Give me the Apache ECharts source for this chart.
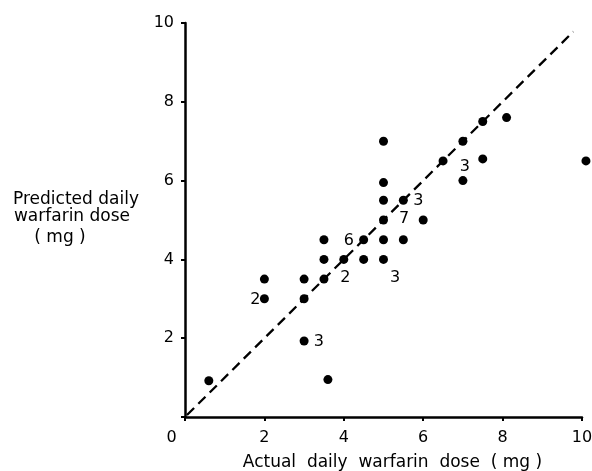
<!DOCTYPE html>
<html>
<head>
<meta charset="utf-8">
<script src="https://cdn.jsdelivr.net/npm/echarts@6/dist/echarts.min.js"></script>
<style>
html,body{margin:0;padding:0;background:#fff;}
#c{width:592px;height:471px;}
</style>
</head>
<body>
<div id="c"></div>
<script>
// Actual vs predicted daily warfarin dose (mg)
const points = [
  [0.6, 0.92], [2, 3.5], [2, 3], [3, 3.5], [3, 3], [3, 1.93],
  [3.5, 4.5], [3.5, 4], [3.5, 3.5], [3.6, 0.95], [4, 4],
  [4.5, 4.5], [4.5, 4], [5, 7], [5, 5.95], [5, 5.5], [5, 5],
  [5, 4.5], [5, 4], [5.5, 5.5], [5.5, 4.5], [6, 5], [6.5, 6.5],
  [7, 7], [7, 6], [7.5, 7.5], [7.5, 6.55], [8.1, 7.6], [10.1, 6.5]
];
// count annotations: [x, y, count]
const counts = [
  [7.05, 6.35, '3'], [5.88, 5.49, '3'], [5.52, 5.03, '7'], [4.13, 4.47, '6'],
  [4.04, 3.52, '2'], [5.29, 3.52, '3'], [1.77, 2.97, '2'], [3.37, 1.9, '3']
];
const identityLine = [0.05, 9.78];
const xTicks = [0, 2, 4, 6, 8, 10];
const yTicks = [0, 2, 4, 6, 8, 10];
const xTitle = 'Actual  daily  warfarin  dose  ( mg )';
const yTitleLines = ['Predicted daily', 'warfarin dose', '( mg )'];

const font = 'DejaVu Sans';
const chart = echarts.init(document.getElementById('c'));
chart.setOption({
  animation: false,
  backgroundColor: '#fff',
  grid: {left: 185, right: 10, top: 23, bottom: 54, containLabel: false, outerBoundsMode: 'none'},
  xAxis: {
    type: 'value', min: xTicks[0], max: xTicks[xTicks.length - 1], interval: 2,
    splitLine: {show: false},
    axisLine: {onZero: false, lineStyle: {color: '#000', width: 2.5}},
    axisTick: {length: 4, lineStyle: {color: '#000', width: 2}},
    axisLabel: {
      color: '#000', fontFamily: font, fontSize: 16, margin: 13,
      formatter: v => v === 0 ? '{z|0}' : String(v),
      rich: {z: {color: '#000', fontFamily: font, fontSize: 16, padding: [0, 27, 0, 0]}}
    },
    name: xTitle, nameLocation: 'middle', nameGap: 37,
    nameTextStyle: {color: '#000', fontFamily: font, fontSize: 17, padding: [0, 0, 0, 18]}
  },
  yAxis: {
    type: 'value', min: yTicks[0], max: yTicks[yTicks.length - 1], interval: 2,
    splitLine: {show: false},
    axisLine: {onZero: false, lineStyle: {color: '#000', width: 2.5}},
    axisTick: {length: 4, lineStyle: {color: '#000', width: 2}},
    axisLabel: {
      color: '#000', fontFamily: font, fontSize: 16, margin: 11,
      formatter: v => v === 0 ? '' : String(v)
    }
  },
  graphic: [
    {type: 'text', x: 76, y: 200, style: {text: yTitleLines[0], font: '17px "DejaVu Sans"', fill: '#000', align: 'center', verticalAlign: 'middle'}},
    {type: 'text', x: 72, y: 217, style: {text: yTitleLines[1], font: '17px "DejaVu Sans"', fill: '#000', align: 'center', verticalAlign: 'middle'}},
    {type: 'text', x: 60, y: 238, style: {text: yTitleLines[2], font: '17px "DejaVu Sans"', fill: '#000', align: 'center', verticalAlign: 'middle'}}
  ],
  series: [
    {
      type: 'line', data: identityLine.map(v => [v, v]), symbol: 'none',
      lineStyle: {color: '#000', width: 2.3, type: [10, 6]}, z: 1
    },
    {
      type: 'scatter', data: points, symbol: 'circle', symbolSize: 9,
      itemStyle: {color: '#000', opacity: 1}, clip: false, z: 3
    },
    {
      type: 'scatter', data: counts, symbolSize: 0, clip: false, z: 4,
      itemStyle: {opacity: 1},
      label: {
        show: true, position: 'inside', color: '#000', fontFamily: font, fontSize: 16,
        formatter: p => p.value[2]
      }
    }
  ]
});
</script>
</body>
</html>
